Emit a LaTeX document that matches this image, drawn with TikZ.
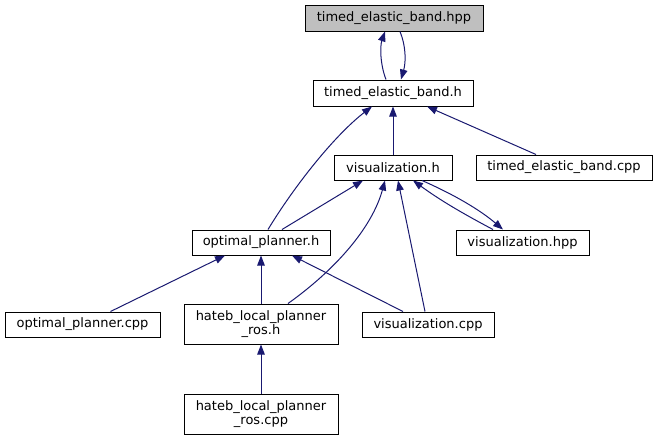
\documentclass[tikz,border=0pt]{standalone}
\usepackage{fontspec}
\setmainfont{DejaVu Sans}
\usetikzlibrary{arrows.meta}
\definecolor{edgecol}{HTML}{191970}
\definecolor{rootfill}{HTML}{BFBFBF}
\begin{document}
\begin{tikzpicture}[x=1pt,y=1pt,
  box/.style={draw=black,line width=1pt,fill=white,inner sep=0pt,align=center,
    font=\fontsize{13}{14}\selectfont},
  arr/.style={draw=edgecol,line width=1pt,-{Triangle[length=10pt,width=7.5pt,fill=edgecol]}}]
\useasboundingbox (0,0) rectangle (657,-440);
\node[box,fill=rootfill,minimum width=178pt,minimum height=26pt] (hpp) at (394,-18) {timed\_elastic\_band.hpp};
\node[box,minimum width=160pt,minimum height=26pt] (h) at (393,-93) {timed\_elastic\_band.h};
\node[box,minimum width=118pt,minimum height=25pt] (vish) at (393,-167.5) {visualization.h};
\node[box,minimum width=176pt,minimum height=25pt] (tebcpp) at (564,-167.5) {timed\_elastic\_band.cpp};
\node[box,minimum width=138pt,minimum height=25pt] (opth) at (261,-242.5) {optimal\_planner.h};
\node[box,minimum width=133pt,minimum height=25pt] (vishpp) at (522.5,-242.5) {visualization.hpp};
\node[box,minimum width=155pt,minimum height=25pt] (optcpp) at (82.5,-324.5) {optimal\_planner.cpp};
\node[box,minimum width=154pt,minimum height=40pt] (hatebh) at (261,-324) {hateb\_local\_planner\\\_ros.h};
\node[box,minimum width=132pt,minimum height=25pt] (viscpp) at (428,-324.5) {visualization.cpp};
\node[box,minimum width=154pt,minimum height=40pt] (hatebcpp) at (261,-414) {hateb\_local\_planner\\\_ros.cpp};

\draw[arr] ([xshift=-7pt]h.north) .. controls (380,-64) and (380,-46) .. ([xshift=-9pt]hpp.south);
\draw[arr] ([xshift=6pt]hpp.south) .. controls (406,-46) and (406,-62) .. ([xshift=8pt]h.north);
\draw[arr] ([xshift=7pt]opth.north) .. controls (295,-185) and (335,-135) .. ([xshift=-21pt]h.south);
\draw[arr] (vish.north) -- (h.south);
\draw[arr] ([xshift=-28pt]tebcpp.north) -- ([xshift=34pt]h.south);
\draw[arr] ([xshift=21pt]opth.north) -- ([xshift=-30pt]vish.south);
\draw[arr] ([xshift=27pt]hatebh.north) .. controls (335,-270) and (372,-228) .. ([xshift=-8pt]vish.south);
\draw[arr] ([xshift=-3pt]viscpp.north) -- ([xshift=5pt]vish.south);
\draw[arr] ([xshift=-29.5pt]vishpp.north) .. controls (460,-212) and (440,-200) .. ([xshift=20pt]vish.south);
\draw[arr] ([xshift=29pt]vish.south) .. controls (455,-195) and (480,-210) .. ([xshift=-19.5pt]vishpp.north);
\draw[arr] ([xshift=28pt]optcpp.north) -- ([xshift=-36pt]opth.south);
\draw[arr] (hatebh.north) -- (opth.south);
\draw[arr] ([xshift=-25pt]viscpp.north) -- ([xshift=31pt]opth.south);
\draw[arr] (hatebcpp.north) -- (hatebh.south);
\end{tikzpicture}
\end{document}
